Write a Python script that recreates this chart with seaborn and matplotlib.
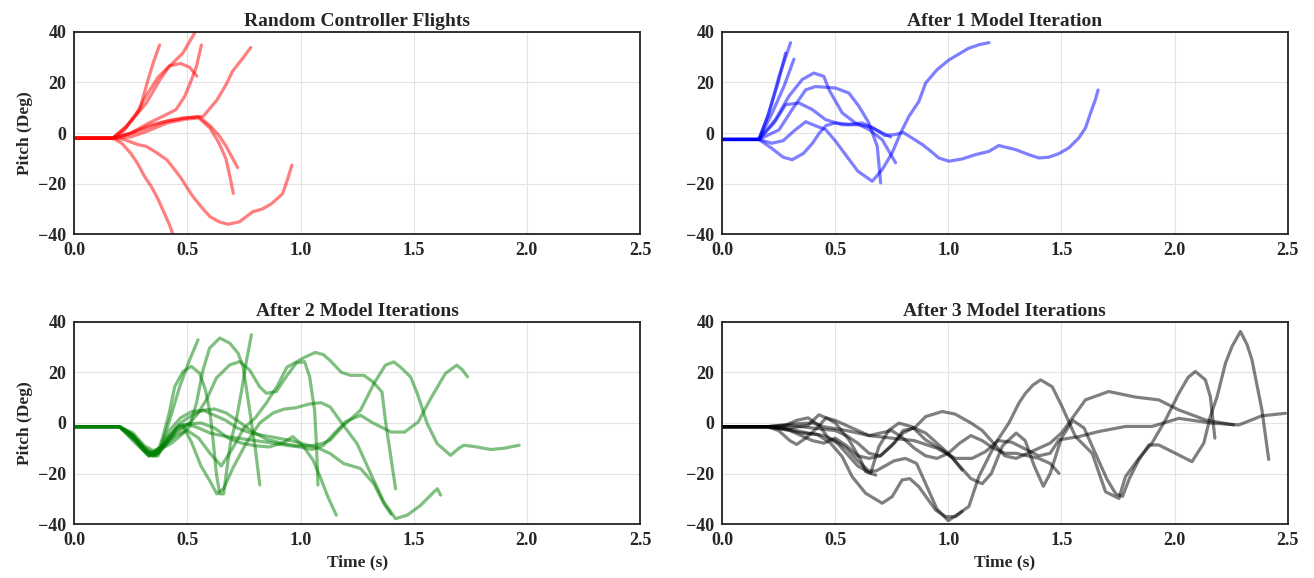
import numpy as np
import pandas as pd
import matplotlib
matplotlib.use("Agg")
import matplotlib.pyplot as plt
import seaborn as sns

sns.set_style("whitegrid", {"grid.color": "#e3e3e3", "axes.edgecolor": "#222222"})
plt.rcParams["font.family"] = ["Liberation Serif", "DejaVu Serif"]
plt.rcParams["font.weight"] = "bold"
plt.rcParams["axes.titleweight"] = "bold"
plt.rcParams["axes.labelweight"] = "bold"

titles = ["Random Controller Flights", "After 1 Model Iteration",
          "After 2 Model Iterations", "After 3 Model Iterations"]
colors = ["red", "blue", "green", "black"]
x_ticks = [0.0, 0.5, 1.0, 1.5, 2.0, 2.5]
y_ticks = [-40, -20, 0, 20, 40]

# random controller flights (time s, pitch deg)
random_t = [
    [0, 0.17, 0.23, 0.289, 0.326, 0.35, 0.377],
    [0, 0.17, 0.23, 0.319, 0.378, 0.42, 0.48, 0.532],
    [0, 0.17, 0.22, 0.27, 0.32, 0.37, 0.42, 0.47, 0.51, 0.542],
    [0, 0.17, 0.25, 0.33, 0.40, 0.45, 0.488, 0.518, 0.54, 0.562],
    [0, 0.17, 0.25, 0.33, 0.42, 0.50, 0.57, 0.63, 0.67, 0.70, 0.74, 0.78],
    [0, 0.17, 0.24, 0.32, 0.40, 0.48, 0.55, 0.60, 0.64, 0.67, 0.70, 0.722],
    [0, 0.17, 0.25, 0.33, 0.41, 0.49, 0.55, 0.60, 0.64, 0.67, 0.69, 0.703],
    [0, 0.17, 0.22, 0.28, 0.32, 0.36, 0.41, 0.44, 0.47, 0.52, 0.56, 0.60, 0.64,
     0.68, 0.73, 0.76, 0.79, 0.83, 0.87, 0.92, 0.94, 0.962],
    [0, 0.17, 0.21, 0.25, 0.28, 0.31, 0.34, 0.37, 0.40, 0.42, 0.436],
]
random_p = [
    [-2, -2, 2.7, 9.3, 21, 28, 34.8],
    [-2, -2, 2.5, 11.9, 21, 26.3, 31.6, 39.5],
    [-2, -2, 1, 7, 15, 22, 26.5, 27.5, 26, 22.5],
    [-2, -2, 0, 4, 7, 9.3, 14.5, 21, 26.3, 34.8],
    [-2, -2, 0, 3, 5, 6, 6.6, 13, 19, 24.5, 29, 33.8],
    [-2, -2, -0.5, 2, 4.5, 6, 6.5, 3, -1, -5, -10, -13.6],
    [-2, -2, -1.5, 1, 4, 5.5, 6, 2, -4, -10, -18, -23.8],
    [-2, -2, -2.5, -4.5, -5.3, -7.5, -10.6, -14, -17.5, -24.5, -29, -33, -35,
     -36, -35, -33, -31, -30, -28, -24, -19, -12.6],
    [-2, -2, -4, -8, -12, -17, -21, -26, -32, -36, -40],
]

# after 1 model iteration
iter1_t = [
    [0, 0.163, 0.208, 0.252, 0.303],
    [0, 0.163, 0.20, 0.246, 0.281],
    [0, 0.163, 0.222, 0.274, 0.318],
    [0, 0.163, 0.237, 0.296, 0.355, 0.406, 0.45, 0.473, 0.531, 0.59, 0.65,
     0.708, 0.767],
    [0, 0.163, 0.252, 0.31, 0.37, 0.414, 0.502, 0.561, 0.605, 0.649, 0.686,
     0.701],
    [0, 0.163, 0.23, 0.281, 0.34, 0.399, 0.458, 0.531, 0.605, 0.65, 0.70,
     0.745],
    [0, 0.163, 0.22, 0.27, 0.32, 0.37, 0.41, 0.458, 0.50, 0.55, 0.60, 0.664,
     0.708, 0.752, 0.789, 0.826, 0.87, 0.90, 0.95, 1.003, 1.09, 1.14, 1.18],
    [0, 0.163, 0.22, 0.27, 0.31, 0.36, 0.40, 0.43, 0.46, 0.50, 0.56, 0.62,
     0.67, 0.72, 0.77, 0.80, 0.85, 0.885, 0.914, 0.958, 1.003, 1.061, 1.12,
     1.18, 1.223, 1.297, 1.356, 1.40, 1.444, 1.489, 1.533, 1.577, 1.606,
     1.629, 1.65, 1.662],
]
iter1_p = [
    [-2.5, -2.5, 8, 22.4, 35.7],
    [-2.5, -2.5, 6.3, 19.3, 31.6],
    [-2.5, -2.5, 8, 18.5, 29.2],
    [-2.5, -2.5, 5.4, 14.6, 21.2, 23.7, 22.4, 17.1, 8, 4, 1.4, -2.6, -11.7],
    [-2.5, -2.5, 1.3, 9.3, 17.1, 18.4, 17.8, 15.8, 10.6, 4, -5.2, -19.6],
    [-2.5, -2.5, 4, 11.2, 11.9, 9.3, 5.3, 3.3, 3.3, 2.6, 0.5, -1.5],
    [-2.5, -2.5, -4, -3, 1, 4.5, 3, 1.4, -3, -9, -15, -19, -14.4, -7.8, 0,
     6.6, 12.5, 19.8, 25, 28.9, 33.5, 35, 35.7],
    [-2.5, -2.5, -6, -9.5, -10.5, -8, -4, 0, 3, 4, 3.5, 4, 2, -1, -0.5, 0.3,
     -2.5, -4.5, -6.5, -9.8, -11.1, -10.2, -8.5, -7.2, -4.9, -6.5, -8.5,
     -9.8, -9.5, -8.1, -5.8, -1.9, 2, 8, 13.2, 17],
]

# after 2 model iterations
iter2_t = [
    [0, 0.2, 0.26, 0.31, 0.35, 0.378, 0.422, 0.466, 0.51, 0.547],
    [0, 0.2, 0.25, 0.30, 0.34, 0.37, 0.39, 0.42, 0.444, 0.481, 0.518, 0.554,
     0.58, 0.60, 0.615, 0.628, 0.643, 0.66, 0.675, 0.69, 0.716, 0.74, 0.76,
     0.783],
    [0, 0.2, 0.26, 0.31, 0.35, 0.39, 0.43, 0.47, 0.51, 0.54, 0.569, 0.598,
     0.643, 0.687, 0.724, 0.746, 0.775, 0.80, 0.82],
    [0, 0.2, 0.26, 0.32, 0.36, 0.40, 0.45, 0.50, 0.54, 0.584, 0.628, 0.687,
     0.731, 0.775, 0.819, 0.849, 0.893, 0.937, 0.981, 1.018, 1.04, 1.062,
     1.07, 1.077],
    [0, 0.2, 0.27, 0.33, 0.37, 0.41, 0.45, 0.50, 0.55, 0.60, 0.65, 0.70,
     0.75, 0.80, 0.85, 0.90, 0.94, 0.98, 1.02, 1.065, 1.10, 1.13, 1.18,
     1.22, 1.28, 1.32, 1.36, 1.375, 1.39, 1.42],
    [0, 0.2, 0.27, 0.33, 0.38, 0.43, 0.47, 0.52, 0.57, 0.62, 0.67, 0.72,
     0.78, 0.85, 0.92, 0.98, 1.05, 1.10, 1.131, 1.19, 1.265, 1.324, 1.375,
     1.412, 1.442, 1.486, 1.516, 1.56, 1.604, 1.663, 1.70, 1.722, 1.78,
     1.84, 1.90, 1.966],
    [0, 0.2, 0.27, 0.33, 0.37, 0.41, 0.46, 0.50, 0.55, 0.60, 0.65, 0.72,
     0.80, 0.88, 0.95, 1.0, 1.05, 1.10, 1.15, 1.20, 1.265, 1.32, 1.40, 1.46,
     1.52, 1.575, 1.64, 1.69, 1.715, 1.738],
    [0, 0.2, 0.26, 0.31, 0.35, 0.40, 0.45, 0.48, 0.52, 0.56, 0.60, 0.63,
     0.66, 0.70, 0.76, 0.82, 0.88, 0.93, 0.98, 1.04, 1.09, 1.131, 1.19,
     1.25, 1.31, 1.368, 1.42, 1.472, 1.531, 1.59, 1.605, 1.619],
    [0, 0.2, 0.26, 0.31, 0.35, 0.40, 0.45, 0.50, 0.56, 0.62, 0.68, 0.74,
     0.80, 0.86, 0.92, 0.966, 1.01, 1.055, 1.09, 1.12, 1.158],
    [0, 0.2, 0.27, 0.33, 0.37, 0.42, 0.47, 0.52, 0.57, 0.62, 0.67, 0.72,
     0.78, 0.84, 0.90, 0.96, 1.02, 1.08, 1.131, 1.19, 1.265, 1.324, 1.368,
     1.40],
]
iter2_p = [
    [-1.5, -1.5, -5, -11, -12, -10.7, 1.2, 14.3, 24.9, 32.8],
    [-1.5, -1.5, -4, -9, -12, -11, -6, 4, 14.3, 20.3, 22.3, 19.6, 13, 4, -8,
     -20, -28, -28, -18, -8, 1.2, 13, 24, 34.8],
    [-1.5, -1.5, -6, -11, -13, -10, -8, -5, -1.5, 7.8, 20.9, 29.5, 33.5,
     31.5, 27.5, 22.3, 5.1, -10, -24.5],
    [-1.5, -1.5, -5, -12, -13, -9, -4, -1, 3, 9.1, 17.7, 22.9, 24.2, 20.9,
     14.3, 11.7, 12.4, 18.3, 23.6, 24.2, 18.3, 5.1, -8, -24.5],
    [-1.5, -1.5, -7, -13, -12, -8, -5, -3, -6, -12, -17, -10, -2, 2, 8, 15,
     22, 24, 26, 27.8, 27, 24.7, 20, 18.8, 18.8, 16.2, 12.2, 1, -8, -26],
    [-1.5, -1.5, -6, -12, -10, -5, 0, 3, 5, 5.5, 4, 1, -3, -6.5, -8, -9, -9,
     -8, -6.8, -1, 5, 15.5, 22.8, 24.1, 22, 18.2, 11.6, -0.3, -8.2, -12.8,
     -10, -8.8, -9.5, -10.5, -10, -8.8],
    [-1.5, -1.5, -8, -13, -13, -6, -1, -0.5, -2, -4, -5, -6, -7, -8, -9,
     -9.5, -10.5, -9, -4, 0.5, 3, 0, -3.6, -3.6, 0.4, 9.6, 19.5, 22.8, 21,
     18.2],
    [-1.5, -1.5, -5, -10, -12, -8, -2, -1, -8, -17, -23, -28, -26, -18, -8,
     0, 4, 5.5, 6, 7.5, 8, 6.3, -1, -8.2, -20, -31.2, -37.8, -36.4, -32.5,
     -27.2, -26, -28.5],
    [-1.5, -1.5, -4, -9, -11, -9, -3, -0.5, 0, -2, -6, -8, -9, -9.5, -8,
     -5.4, -9, -14.6, -22, -29, -36.4],
    [-1.5, -1.5, -7, -13, -12, -3, 2, 4.5, 5, 3, 1, -2, -4, -5, -6, -7, -8.5,
     -10, -12.1, -16, -18, -24, -31.8, -36],
]

# after 3 model iterations
iter3_t = [
    [0, 0.2, 0.3, 0.4, 0.45, 0.5, 0.55, 0.6, 0.65, 0.7, 0.76, 0.8, 0.85,
     0.9, 0.95, 1.0, 1.05, 1.1, 1.15, 1.19, 1.24, 1.3, 1.34, 1.38, 1.42,
     1.45, 1.5, 1.55, 1.6, 1.65, 1.7, 1.74, 1.77, 1.80, 1.842, 1.886, 1.93,
     2.004, 2.077, 2.129, 2.158, 2.188, 2.225, 2.254, 2.291, 2.32, 2.342,
     2.386, 2.416],
    [0, 0.2, 0.3, 0.4, 0.5, 0.55, 0.6, 0.65, 0.7, 0.75, 0.8, 0.856, 0.9,
     0.973, 1.03, 1.1, 1.15, 1.2, 1.25, 1.3, 1.35, 1.4, 1.45, 1.5, 1.533,
     1.606, 1.709, 1.827, 1.93, 2.019, 2.136, 2.261],
    [0, 0.2, 0.3, 0.4, 0.45, 0.55, 0.65, 0.75, 0.85, 0.95, 1.032, 1.105,
     1.165, 1.22, 1.28, 1.34, 1.4, 1.45, 1.489, 1.577, 1.665, 1.783, 1.9,
     2.019, 2.166, 2.284, 2.386, 2.49],
    [0, 0.2, 0.3, 0.38, 0.45, 0.5, 0.55, 0.6, 0.65, 0.68, 0.72, 0.76, 0.81,
     0.86, 0.9, 0.95, 1.0, 1.047, 1.091, 1.135, 1.209, 1.268, 1.312, 1.341,
     1.375, 1.408, 1.459, 1.503, 1.562, 1.636, 1.695, 1.754, 1.783, 1.842,
     1.9, 1.96, 2.019, 2.06, 2.092, 2.136, 2.158, 2.178],
    [0, 0.2, 0.28, 0.35, 0.42, 0.48, 0.531, 0.575, 0.635, 0.708, 0.752,
     0.796, 0.83, 0.87, 0.944, 0.988, 1.032, 1.061],
    [0, 0.2, 0.28, 0.33, 0.38, 0.43, 0.47, 0.51, 0.55, 0.6, 0.657, 0.693,
     0.738, 0.782, 0.84, 0.9, 0.973, 1.02, 1.061],
    [0, 0.2, 0.3, 0.38, 0.428, 0.46, 0.502, 0.561, 0.613, 0.635, 0.679],
    [0, 0.2, 0.25, 0.3, 0.33, 0.37, 0.42, 0.46, 0.5, 0.55, 0.6, 0.65, 0.7,
     0.75, 0.8, 0.85, 0.9, 0.95, 1.0, 1.05, 1.1, 1.15, 1.2, 1.25, 1.3, 1.35,
     1.4, 1.45, 1.489],
]
iter3_p = [
    [-1.5, -1.5, -3, -7, -8, -6, -9, -13, -14, -13, -8, -3, -2, -4, -8, -12,
     -17, -22, -24, -20, -9, -4, -7, -17, -25, -20, -6, 1, -2, -12, -22,
     -28, -29, -22, -14.6, -8.7, -8.7, -12, -15.3, -8, 2.5, 10.4, 23.6,
     30.2, 36.1, 31, 24.9, 5.1, -14.4],
    [-1.5, -1.5, -1, -2, -3, -5, -8, -12, -13, -9, -4, -1.5, 2.5, 4.5, 3.5,
     0, -3, -8, -13, -14, -12, -10, -8, -4, 0, 9.1, 12.4, 10.2, 9.1, 5.1,
     1.2, -0.8],
    [-1.5, -1.5, -0.5, 0, -1.5, -3, -5, -6, -7, -10, -14, -14, -11.3, -7,
     -7.6, -10.3, -13, -12, -6.7, -5.4, -3.4, -1.4, -1.4, 1.8, -0.1, -0.8,
     2.8, 3.8],
    [-1.5, -1.5, -2.5, -4, -5, -7, -10, -15, -19, -19, -17, -15, -14, -16,
     -24, -34, -38.6, -35.7, -33, -21.2, -8, 0, 7.8, 11.7, 15, 17, 14.3, 6.4,
     -5.4, -12, -27.2, -29.8, -21.2, -14, -8, 1.2, 11.7, 18, 20.3, 17, 10.4,
     -6],
    [-1.5, -1.5, -2.5, -4, -4.5, -8, -13.3, -21.2, -27.8, -31.7, -29.1,
     -22.5, -22, -25.2, -34.4, -37, -37, -35],
    [-1.5, -1.5, -1, 1, 2, -1, -6, -8, -12, -17, -19.9, -9.4, -2.8, -0.1,
     -1.5, -6.7, -10.7, -14, -18.6],
    [-1.5, -1.5, -2, -1, 3.2, 2, -0.1, -6.7, -14.6, -19.2, -20.6],
    [-1.5, -1.5, -3, -7, -8.5, -6, -2, 2, 1, -1, -3, -5, -4, -3, -6, -10,
     -13, -14, -12, -8, -5, -7, -10, -12, -12, -13, -14, -16, -19.9],
]

panels = [(random_t, random_p), (iter1_t, iter1_p), (iter2_t, iter2_p),
          (iter3_t, iter3_p)]

fig, axes = plt.subplots(2, 2, figsize=(13.14, 5.78), dpi=100)
fig.subplots_adjust(left=0.0565, right=0.98, top=0.945, bottom=0.093,
                    wspace=0.145, hspace=0.43)

for i, ax in enumerate(axes.flat):
    ts, ps = panels[i]
    rows = []
    for k, (tt, pp) in enumerate(zip(ts, ps)):
        for a, b in zip(tt, pp):
            rows.append((k, a, b))
    df = pd.DataFrame(rows, columns=["flight", "t", "pitch"])
    sns.lineplot(data=df, x="t", y="pitch", units="flight", estimator=None,
                 sort=False, color=colors[i], alpha=0.5, linewidth=2.3, ax=ax)
    ax.set_xlim(0, 2.5)
    ax.set_ylim(-40, 40)
    ax.set_xticks(x_ticks)
    ax.set_yticks(y_ticks)
    ax.tick_params(labelsize=13, pad=2)
    ax.set_title(titles[i], fontsize=14, pad=4)
    ax.set_xlabel("Time (s)" if i >= 2 else "", fontsize=12.5)
    ax.set_ylabel("Pitch (Deg)" if i % 2 == 0 else "", fontsize=12.5)
    for s in ax.spines.values():
        s.set_linewidth(1.3)
        s.set_color("#222222")

fig.savefig("out.png", dpi=100)
